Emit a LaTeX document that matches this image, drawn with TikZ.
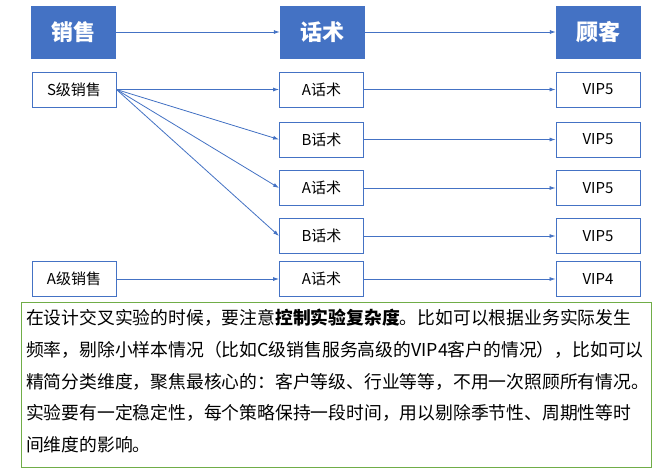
\documentclass[tikz,border=0pt]{standalone}
\usepackage{fontspec}
\setmainfont{Liberation Serif}
\newfontfamily\cjk{Noto Sans CJK SC}
\usetikzlibrary{arrows.meta}
\definecolor{bl}{HTML}{4472C4}
\definecolor{gr}{HTML}{70AD47}
\begin{document}
\begin{tikzpicture}[x=1pt,y=-1pt,
 hdr/.style={fill=bl,draw=bl,minimum width=84pt,minimum height=52pt,text=white,font=\cjk\bfseries\fontsize{22}{24}\selectfont,inner sep=0},
 cell/.style={draw=bl,line width=0.9pt,fill=white,minimum width=84pt,minimum height=35pt,inner sep=0,font=\cjk\fontsize{15}{17}\selectfont},
 arr/.style={draw=bl,line width=0.8pt,-{Latex[length=6pt,width=4pt]}}]
\useasboundingbox (0,0) rectangle (662,472);
\fill[white] (0,0) rectangle (662,472);
\node[hdr] (h1) at (73,32) {销售};
\node[hdr] (h2) at (322,32) {话术};
\node[hdr] (h3) at (598,32) {顾客};
\draw[arr] (h1) -- (h2); \draw[arr] (h2) -- (h3);
\node[cell] (s) at (74,89.5) {S级销售};
\node[cell] (a) at (74,279) {A级销售};
\foreach \n/\t/\y in {1/A/89.5,2/B/139.5,3/A/188,4/B/236,5/A/279}{
 \node[cell] (m\n) at (321.5,\y) {\t 话术};
}
\foreach \n/\t/\y in {1/5/89.5,2/5/139.5,3/5/188,4/5/236,5/4/279}{
 \node[cell] (v\n) at (598,\y) {VIP\t};
 \draw[arr] (m\n) -- (v\n);
}
\foreach \n in {1,2,3,4}{\draw[arr] (s.east) -- (m\n.west);}
\draw[arr] (a) -- (m5);
\node[draw=gr,line width=0.9pt,minimum width=630pt,minimum height=165pt,anchor=north west,inner sep=0] (box) at (21,302) {};
\node[anchor=north west,align=left,inner sep=0,font=\cjk\fontsize{17.8}{31.7}\selectfont] (txt) at (26,309) {在设计交叉实验的时候，要注意\textbf{控制实验复杂度}。比如可以根据业务实际发生\\频率，剔除小样本情况（比如C级销售服务高级的VIP4客户的情况），比如可以\\精简分类维度，聚焦最核心的：客户等级、行业等等，不用一次照顾所有情况。\\实验要有一定稳定性，每个策略保持一段时间，用以剔除季节性、周期性等时\\间维度的影响。};
\end{tikzpicture}
\end{document}
